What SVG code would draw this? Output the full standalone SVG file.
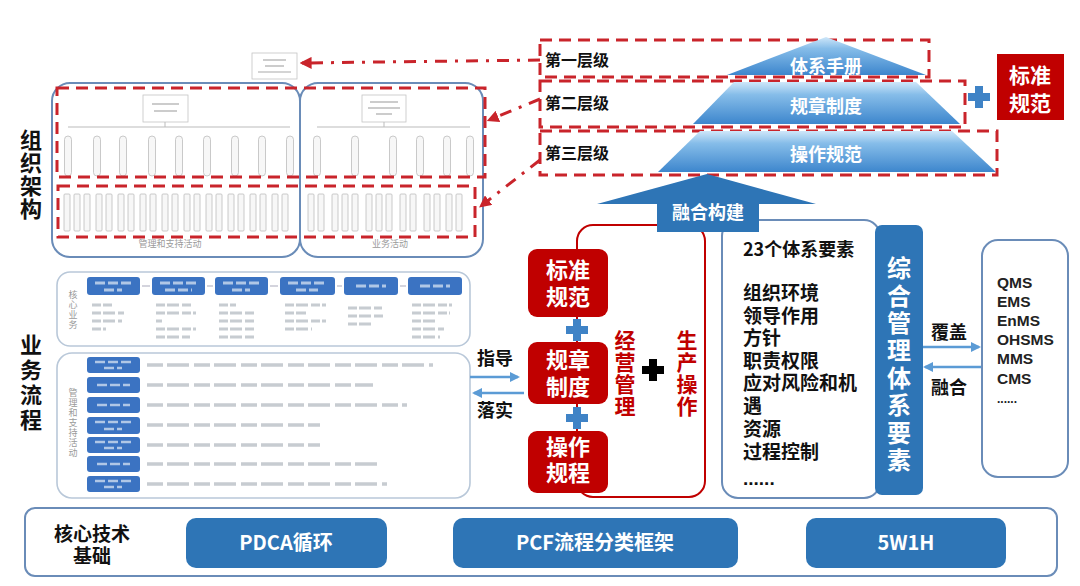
<svg xmlns="http://www.w3.org/2000/svg" xmlns:xlink="http://www.w3.org/1999/xlink" width="1080" height="586" viewBox="0 0 1080 586">
<style>
text{font-family:"Noto Sans CJK SC","Noto Sans",sans-serif;font-weight:bold}
text.ml{font-family:"Liberation Sans","Noto Sans CJK SC",sans-serif}
text.vt{writing-mode:vertical-rl;glyph-orientation-vertical:0}
.dash{fill:none;stroke:#c9242b;stroke-width:3;stroke-dasharray:12 7}
.dashdot{fill:none;stroke:#c9242b;stroke-width:3;stroke-dasharray:12 8 3 8}
.bo{fill:#fff;stroke:#6a8cb8;stroke-width:2}
.lo{fill:#fff;stroke:#b9c8d9;stroke-width:1.6}
.bb{fill:#2e75b6}
.sb{fill:#3b73c2}
.rb{fill:#c00000}
.pill{fill:#f7f7f7;stroke:#bdbdbd;stroke-width:0.8}
.ol{fill:none;stroke:#c4c4c4;stroke-width:0.8}
.gt{stroke:#9aa3ad;stroke-width:3.5;stroke-dasharray:16 4 22 5;opacity:0.55}
.wt{stroke:#ffffff;stroke-width:3;stroke-dasharray:10 3;opacity:0.6}
.lbl{font-size:22px;fill:#111}
.lvl{font-size:16px;fill:#111}
.wh{fill:#fff}
.red{fill:#c00000}
.sm{font-size:9px;fill:#9a9a9a;font-weight:normal}
.con{stroke:#5b9bd5;stroke-width:2.5;fill:none}
</style>
<defs>
<linearGradient id="pg" x1="0" y1="0" x2="0" y2="1">
<stop offset="0" stop-color="#cfe7f9"/>
<stop offset="0.3" stop-color="#86bde9"/>
<stop offset="1" stop-color="#3d86cd"/>
</linearGradient>
<marker id="ra" viewBox="0 0 10 10" refX="8" refY="5" markerWidth="4" markerHeight="4" orient="auto-start-reverse"><path d="M0,0 L10,5 L0,10 z" fill="#c9242b"/></marker>
<marker id="ba" viewBox="0 0 10 10" refX="8" refY="5" markerWidth="4" markerHeight="4" orient="auto-start-reverse"><path d="M0,0 L10,5 L0,10 z" fill="#5b9bd5"/></marker>
<rect id="pl" x="-3.5" y="0" width="7" height="40" rx="3.5"/>
<rect id="col" x="0" y="0" width="6" height="37" rx="1"/>
<path id="plus" d="M-4,-11 H4 V-4 H11 V4 H4 V11 H-4 V4 H-11 V-4 H-4 Z"/>
</defs>

<!-- Side labels -->
<g id="label-org">
<text class="lbl vt" x="31" y="129" letter-spacing="1">组织架构</text>
</g>
<g id="label-biz">
<text class="lbl vt" x="31" y="334" letter-spacing="3">业务流程</text>
</g>

<!-- Org chart -->
<g id="org-chart">
<rect x="252" y="53" width="45" height="26" class="ol" fill="#fff"/>
<line x1="263" y1="60" x2="286" y2="60" stroke="#aaa" stroke-width="1.2"/>
<line x1="265" y1="66" x2="284" y2="66" stroke="#aaa" stroke-width="1.2"/>
<line x1="258" y1="72" x2="291" y2="72" stroke="#aaa" stroke-width="1.2"/>
<rect x="52" y="83" width="248" height="174" rx="18" class="bo" fill="none"/>
<rect x="300" y="83" width="183" height="174" rx="18" class="bo" fill="none"/>
<rect x="143" y="95" width="45" height="27" class="ol" fill="#fff"/>
<line x1="152" y1="104" x2="179" y2="104" stroke="#aaa" stroke-width="1.2"/>
<line x1="154" y1="111" x2="177" y2="111" stroke="#aaa" stroke-width="1.2"/>
<rect x="362" y="95" width="44" height="27" class="ol" fill="#fff"/>
<line x1="370" y1="102" x2="398" y2="102" stroke="#aaa" stroke-width="1.2"/>
<line x1="368" y1="108" x2="400" y2="108" stroke="#aaa" stroke-width="1.2"/>
<line x1="376" y1="114" x2="392" y2="114" stroke="#aaa" stroke-width="1.2"/>
<path d="M165,122 V127 M68,127 H290 M384,122 V127 M317,127 H470" stroke="#bbb" stroke-width="1" fill="none"/>
<g class="pill">
<use xlink:href="#pl" x="68" y="136"/><use xlink:href="#pl" x="97" y="136"/><use xlink:href="#pl" x="123" y="136"/>
<use xlink:href="#pl" x="152" y="136"/><use xlink:href="#pl" x="179" y="136"/><use xlink:href="#pl" x="207" y="136"/>
<use xlink:href="#pl" x="235" y="136"/><use xlink:href="#pl" x="262" y="136"/><use xlink:href="#pl" x="290" y="136"/>
<use xlink:href="#pl" x="317" y="136"/><use xlink:href="#pl" x="355" y="136"/><use xlink:href="#pl" x="393" y="136"/>
<use xlink:href="#pl" x="420" y="136"/><use xlink:href="#pl" x="447" y="136"/><use xlink:href="#pl" x="470" y="136"/>
</g>
<g class="pill">
<use xlink:href="#col" x="64" y="194"/><use xlink:href="#col" x="74" y="194"/><use xlink:href="#col" x="84" y="194"/>
<use xlink:href="#col" x="96" y="194"/><use xlink:href="#col" x="106" y="194"/><use xlink:href="#col" x="118" y="194"/>
<use xlink:href="#col" x="128" y="194"/><use xlink:href="#col" x="140" y="194"/><use xlink:href="#col" x="150" y="194"/>
<use xlink:href="#col" x="162" y="194"/><use xlink:href="#col" x="172" y="194"/><use xlink:href="#col" x="184" y="194"/>
<use xlink:href="#col" x="194" y="194"/><use xlink:href="#col" x="206" y="194"/><use xlink:href="#col" x="216" y="194"/>
<use xlink:href="#col" x="228" y="194"/><use xlink:href="#col" x="238" y="194"/><use xlink:href="#col" x="250" y="194"/>
<use xlink:href="#col" x="260" y="194"/><use xlink:href="#col" x="272" y="194"/><use xlink:href="#col" x="282" y="194"/>
<use xlink:href="#col" x="308" y="194"/><use xlink:href="#col" x="318" y="194"/><use xlink:href="#col" x="332" y="194"/>
<use xlink:href="#col" x="342" y="194"/><use xlink:href="#col" x="352" y="194"/><use xlink:href="#col" x="366" y="194"/>
<use xlink:href="#col" x="376" y="194"/><use xlink:href="#col" x="386" y="194"/><use xlink:href="#col" x="400" y="194"/>
<use xlink:href="#col" x="410" y="194"/><use xlink:href="#col" x="424" y="194"/><use xlink:href="#col" x="434" y="194"/>
<use xlink:href="#col" x="446" y="194"/><use xlink:href="#col" x="456" y="194"/>
</g>
<text class="sm" x="170" y="247" text-anchor="middle">管理和支持活动</text>
<text class="sm" x="390" y="247" text-anchor="middle">业务活动</text>
<rect x="57" y="88" width="428" height="89" class="dash"/>
<rect x="58" y="186" width="417" height="51" class="dash"/>
</g>

<!-- Core business -->
<g id="core-business">
<rect x="57" y="272" width="413" height="74" rx="13" class="lo"/>
<text class="sm vt" x="73" y="290" letter-spacing="1">核心业务</text>
<g class="sb">
<rect x="87" y="277" width="53" height="18" rx="3"/><rect x="152" y="277" width="53" height="18" rx="3"/>
<rect x="215" y="277" width="53" height="18" rx="3"/><rect x="280" y="277" width="55" height="18" rx="3"/>
<rect x="344" y="277" width="54" height="18" rx="3"/><rect x="408" y="277" width="54" height="18" rx="3"/>
</g>
<path class="wt" d="M95,283 H132 M104,290 H122 M160,283 H197 M165,290 H192 M223,283 H260 M232,290 H250 M288,283 H327 M296,290 H318 M356,286 H386 M420,286 H450"/>
<path d="M142,286 H150 M207,286 H213 M270,286 H278 M337,286 H342 M400,286 H406" stroke="#aab" stroke-width="1.2"/>
<path class="gt" style="stroke-width:3;stroke-dasharray:9 2 12 3" d="M92,305 H112 M92,313 H124 M92,321 H122 M92,329 H106
M156,305 H192 M156,313 H196 M156,321 H162 M156,329 H196 M156,337 H190
M219,305 H236 M219,313 H256 M219,321 H255 M219,329 H255 M219,337 H254
M285,305 H326 M285,313 H306 M285,321 H326 M285,329 H312
M348,308 H382 M348,316 H384 M348,324 H372
M412,305 H452 M412,313 H450 M412,321 H436 M412,329 H444 M412,337 H440"/>
</g>

<!-- Management & support -->
<g id="mgmt-support">
<rect x="57" y="353" width="413" height="145" rx="15" class="lo"/>
<text class="sm vt" x="73" y="388" letter-spacing="1">管理和支持活动</text>
<g class="sb">
<rect x="87" y="357" width="53" height="16" rx="3"/><rect x="87" y="377" width="53" height="16" rx="3"/>
<rect x="87" y="397" width="53" height="16" rx="3"/><rect x="87" y="417" width="53" height="17" rx="3"/>
<rect x="87" y="437" width="53" height="16" rx="3"/><rect x="87" y="456" width="53" height="16" rx="3"/>
<rect x="87" y="476" width="53" height="16" rx="3"/>
</g>
<path class="wt" style="stroke-width:2.5" d="M95,362 H132 M104,368 H122 M97,385 H130 M97,405 H130 M95,422 H132 M104,429 H122 M95,442 H132 M104,448 H122 M97,464 H130 M95,481 H132 M104,487 H122"/>
<path class="gt" d="M147,365 H433 M147,385 H373 M147,405 H407 M147,425 H320 M147,445 H320 M147,464 H380 M147,484 H387"/>
</g>

<!-- Level dashed boxes -->
<g id="levels">
<rect x="540" y="40" width="389" height="37" class="dash"/>
<rect x="540" y="81" width="425" height="46" class="dash"/>
<rect x="540" y="131" width="457" height="44" class="dash"/>
<text class="lvl" x="545" y="66">第一层级</text>
<text class="lvl" x="545" y="109">第二层级</text>
<text class="lvl" x="545" y="159">第三层级</text>
</g>

<!-- Pyramid -->
<g id="pyramid">
<path d="M826,37 L926,75 L727,75 Z" fill="url(#pg)"/>
<path d="M734,82 L916,82 L960,124 L693,124 Z" fill="url(#pg)"/>
<path d="M700,131 L952,131 L996,172 L658,172 Z" fill="url(#pg)"/>
<text class="wh" x="826" y="73" font-size="18" text-anchor="middle">体系手册</text>
<text class="wh" x="826" y="113" font-size="18" text-anchor="middle">规章制度</text>
<text class="wh" x="826" y="161" font-size="18" text-anchor="middle">操作规范</text>
</g>

<!-- Standard box top right -->
<g id="std-top">
<use xlink:href="#plus" x="979" y="97" fill="#3f83c6"/>
<rect x="997" y="54" width="67" height="66" class="rb"/>
<text class="wh ml" font-size="21" text-anchor="middle"><tspan x="1030" y="83">标准</tspan><tspan x="1030" dy="28">规范</tspan></text>
</g>

<!-- Middle red outline -->
<g id="mid-outline">
<rect x="577" y="225" width="128" height="272" rx="16" fill="none" stroke="#c00000" stroke-width="2"/>
</g>
<g id="box-23">
<rect x="722" y="220" width="158" height="278" rx="16" class="bo"/>
<text x="743" y="256" font-size="18" fill="#111">23个体系要素</text>
<text class="ml" font-size="19" fill="#111"><tspan x="743" y="300">组织环境</tspan><tspan x="743" dy="22.5">领导作用</tspan><tspan x="743" dy="22.5">方针</tspan><tspan x="743" dy="22.5">职责权限</tspan><tspan x="743" dy="22.5">应对风险和机</tspan><tspan x="743" dy="23">遇</tspan><tspan x="743" dy="23">资源</tspan><tspan x="743" dy="23">过程控制</tspan><tspan x="743" dy="26">......</tspan></text>
</g>
<g id="arrow-fuse">
<path d="M707,174 L816,204 L759,204 L759,232 L657,232 L657,204 L597,204 Z" fill="#2e75b6"/>
<text class="wh" x="708" y="219" font-size="18" text-anchor="middle">融合构建</text>
</g>
<g id="red-boxes">
<use xlink:href="#plus" x="577" y="330" fill="#3f83c6"/>
<use xlink:href="#plus" x="577" y="418" fill="#3f83c6"/>
<rect x="528" y="249" width="80" height="68" rx="9" class="rb"/>
<text class="wh ml" font-size="22" text-anchor="middle"><tspan x="568" y="278">标准</tspan><tspan x="568" dy="27">规范</tspan></text>
<rect x="528" y="342" width="80" height="62" rx="9" class="rb"/>
<text class="wh ml" font-size="22" text-anchor="middle"><tspan x="568" y="368">规章</tspan><tspan x="568" dy="27">制度</tspan></text>
<rect x="528" y="431" width="80" height="62" rx="9" class="rb"/>
<text class="wh ml" font-size="22" text-anchor="middle"><tspan x="568" y="455">操作</tspan><tspan x="568" dy="26">规程</tspan></text>
</g>
<g id="vtexts">
<text class="red vt" x="625" y="330" font-size="21" letter-spacing="1">经营管理</text>
<text class="red vt" x="687" y="330" font-size="21" letter-spacing="1">生产操作</text>
<use xlink:href="#plus" x="653" y="370" fill="#000"/>
</g>

<!-- Blue vertical bar -->
<g id="bar-elements">
<rect x="875" y="225" width="48" height="270" rx="7" class="bb"/>
<text class="wh vt" x="899" y="256" font-size="24" letter-spacing="3.4">综合管理体系要素</text>
</g>

<!-- Right systems box -->
<g id="systems">
<rect x="982" y="240" width="86" height="237" rx="16" class="bo"/>
<text class="ml" font-size="15.5" fill="#222"><tspan x="997" y="288">QMS</tspan><tspan x="997" dy="19">EMS</tspan><tspan x="997" dy="19">EnMS</tspan><tspan x="997" dy="19">OHSMS</tspan><tspan x="997" dy="19">MMS</tspan><tspan x="997" dy="20">CMS</tspan><tspan x="997" dy="19" font-size="12">......</tspan></text>
</g>

<!-- Connector labels -->
<g id="conn-labels" font-size="18" fill="#111" text-anchor="middle">
<text x="495" y="365">指导</text>
<text x="495" y="417">落实</text>
<text x="949" y="339">覆盖</text>
<text x="949" y="394">融合</text>
</g>

<!-- Connectors -->
<g id="connectors">
<line x1="540" y1="60" x2="302" y2="63" class="dashdot" marker-end="url(#ra)"/>
<line x1="540" y1="99" x2="489" y2="120" class="dashdot" marker-end="url(#ra)"/>
<line x1="540" y1="160" x2="481" y2="206" class="dashdot" marker-end="url(#ra)"/>
<line x1="470" y1="377" x2="518" y2="377" class="con" marker-end="url(#ba)"/>
<line x1="524" y1="393" x2="474" y2="393" class="con" marker-end="url(#ba)"/>
<line x1="923" y1="347" x2="979" y2="347" class="con" marker-end="url(#ba)"/>
<line x1="981" y1="367" x2="925" y2="367" class="con" marker-end="url(#ba)"/>
</g>

<!-- Bottom foundation -->
<g id="foundation">
<rect x="25" y="508" width="1032" height="68" rx="10" class="bo"/>
<text class="ml" font-size="19" fill="#111" text-anchor="middle"><tspan x="92" y="541">核心技术</tspan><tspan x="92" dy="22">基础</tspan></text>
</g>
<g id="pdca">
<rect x="186" y="518" width="201" height="50" rx="10" class="bb"/>
<text class="wh" x="286" y="550" font-size="20" text-anchor="middle">PDCA循环</text>
</g>
<g id="pcf">
<rect x="453" y="518" width="285" height="50" rx="10" class="bb"/>
<text class="wh" x="595" y="550" font-size="20" text-anchor="middle">PCF流程分类框架</text>
</g>
<g id="w5h1">
<rect x="806" y="518" width="200" height="50" rx="10" class="bb"/>
<text class="wh" x="906" y="550" font-size="20" text-anchor="middle">5W1H</text>
</g>
</svg>
